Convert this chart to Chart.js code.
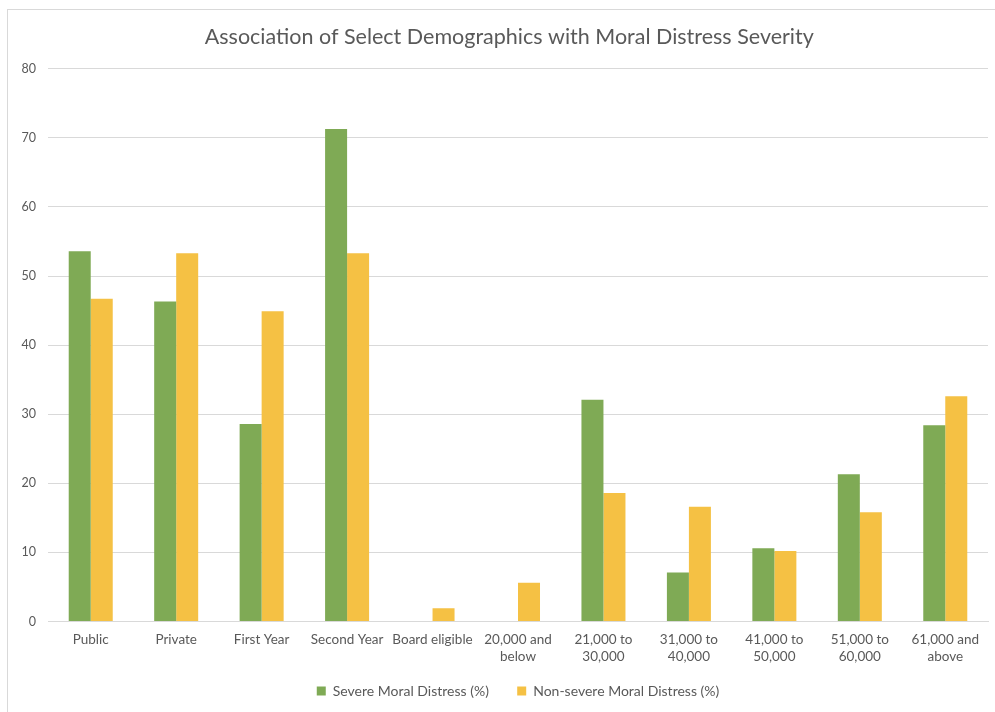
<!DOCTYPE html>
<html>
<head>
<meta charset="utf-8">
<script src="https://cdn.jsdelivr.net/npm/chart.js@4.4.0/dist/chart.umd.min.js"></script>
<style>
    html, body { margin: 0; padding: 0; background: #fff; }
    #wrap { position: relative; width: 995px; height: 712px; }
    #frame { position: absolute; left: 7px; top: 9px; right: 0; bottom: 0; border-left: 1px solid #d9d9d9; border-top: 1px solid #d9d9d9; }
    canvas { position: absolute; left: 0; top: 0; }
</style>
</head>
<body>
<div id="wrap">
    <div id="frame"></div>
    <canvas id="chart1" width="995" height="712"></canvas>
</div>
<script>
// kategorier (to-linjede labels som i Excel)
const categories = [
    'Public',
    'Private',
    'First Year',
    'Second Year',
    'Board eligible',
    ['20,000 and', 'below'],
    ['21,000 to', '30,000'],
    ['31,000 to', '40,000'],
    ['41,000 to', '50,000'],
    ['51,000 to', '60,000'],
    ['61,000 and', 'above']
];

const severe = [53.6, 46.3, 28.6, 71.3, 0, 0, 32.1, 7.1, 10.6, 21.3, 28.4];
const nonSevere = [46.7, 53.3, 44.9, 53.3, 1.9, 5.6, 18.6, 16.6, 10.2, 15.8, 32.6];

const yTicks = [0, 10, 20, 30, 40, 50, 60, 70, 80];

const fontFamily = 'Lato, "Open Sans", sans-serif';
const textColor = '#595959';

const ctx = document.querySelector('#chart1');

if (ctx) {
new Chart(ctx, {
    type: 'bar',
    data: {
        labels: categories,
        datasets: [
            {
                label: 'Severe Moral Distress (%)',
                data: severe,
                backgroundColor: '#7faa55',
                borderWidth: 0,
                categoryPercentage: 0.515,
                barPercentage: 1
            },
            {
                label: 'Non-severe Moral Distress (%)',
                data: nonSevere,
                backgroundColor: '#f5c144',
                borderWidth: 0,
                categoryPercentage: 0.515,
                barPercentage: 1
            }
        ]
    },
    options: {
        responsive: false,
        animation: false,
        layout: {
            padding: { top: 0, right: 7, bottom: 4, left: 14 }
        },
        scales: {
            x: {
                afterFit: function(scale) { scale.height = 48.5; }, // plads til to-linjede labels
                grid: { display: false, drawTicks: false },
                border: { display: true, color: '#d9d9d9' },
                ticks: {
                    color: textColor,
                    font: { family: fontFamily, size: 13.5, lineHeight: 1.25 },
                    padding: 10,
                    maxRotation: 0,
                    autoSkip: false
                }
            },
            y: {
                min: 0,
                max: 80,
                afterFit: function(scale) { scale.width = 34; }, // plotområdet starter ved x=48
                afterBuildTicks: function(scale) {
                    scale.ticks = yTicks.map(v => ({ value: v }));
                },
                grid: { color: '#d9d9d9', drawTicks: false },
                border: { display: false },
                ticks: {
                    color: textColor,
                    font: { family: fontFamily, size: 12.5 },
                    padding: 12
                }
            }
        },
        plugins: {
            title: {
                display: true,
                // mellemrum foran flytter titlen lidt mod højre ligesom i Excel
                text: '   Association of Select Demographics with Moral Distress Severity',
                color: textColor,
                font: { family: fontFamily, size: 21.5, weight: 'normal' },
                padding: { top: 24, bottom: 19 }
            },
            legend: {
                position: 'bottom',
                fullSize: false, // centreres under plotområdet
                labels: {
                    color: textColor,
                    font: { family: fontFamily, size: 14 },
                    boxWidth: 9,
                    boxHeight: 9,
                    padding: 14,
                    // ekstra mellemrum efter første label, som i Excel
                    generateLabels: (chart) => {
                        return chart.data.datasets.map((dataset, i) => ({
                            text: i === 0 ? dataset.label + '    ' : dataset.label,
                            fillStyle: dataset.backgroundColor,
                            strokeStyle: dataset.backgroundColor,
                            lineWidth: 0,
                            fontColor: textColor,
                            hidden: !chart.isDatasetVisible(i),
                            datasetIndex: i
                        }));
                    }
                }
            },
            tooltip: { enabled: false }
        }
    }
});
}
</script>
</body>
</html>
